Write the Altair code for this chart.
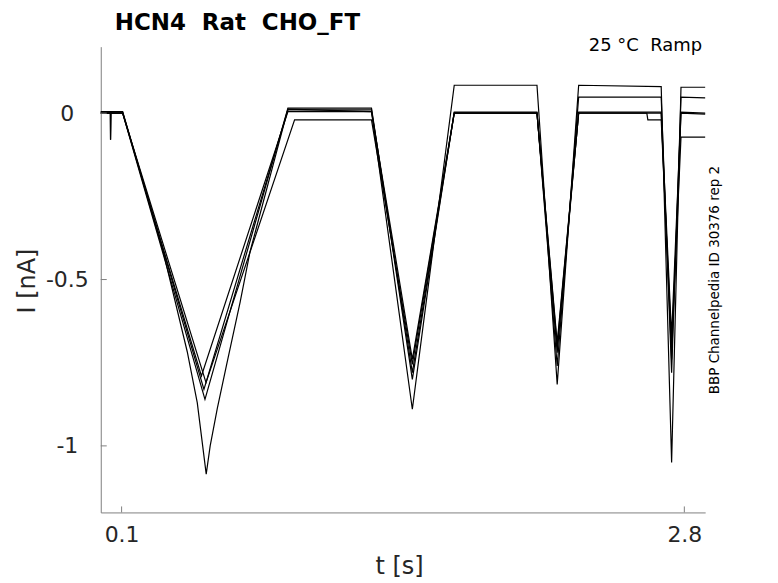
import altair as alt
import pandas as pd

# ---- data (time in s, current in nA) ----
t1 = [0.0, 0.046, 0.047, 0.049, 0.105, 0.301, 0.415, 0.463, 0.506, 0.525, 0.559, 0.607, 0.669, 0.716, 0.898,
      1.299, 1.495, 1.696, 2.093, 2.190, 2.293, 2.689, 2.739, 2.784, 2.900]
i1 = [0.003, 0.003, -0.08, 0.003, 0.003, -0.42, -0.717, -0.87, -1.085, -1.0, -0.888, -0.747, -0.567, -0.417, 0.012,
      0.005, -0.89, 0.084, 0.084, -0.815, 0.084, 0.080, -1.05, 0.078, 0.078]

t2 = [0.0, 0.105, 0.500, 0.898, 1.299, 1.495, 1.696, 2.093, 2.190, 2.293, 2.689, 2.739, 2.784, 2.900]
i2 = [0.0, 0.0, -0.86, 0.015, 0.015, -0.80, 0.003, 0.003, -0.76, 0.048, 0.048, -0.78, 0.048, 0.046]

t3 = [0.0, 0.046, 0.047, 0.049, 0.105, 0.495, 0.898, 1.299, 1.495, 1.696, 2.093, 2.190, 2.293, 2.689, 2.739, 2.784, 2.900]
i3 = [0.005, 0.005, -0.08, 0.005, 0.005, -0.83, 0.010, 0.010, -0.78, 0.0, 0.0, -0.72, 0.003, 0.003, -0.74, 0.0, -0.003]

t4 = [0.0, 0.105, 0.505, 0.930, 1.299, 1.495, 1.696, 2.093, 2.190, 2.293, 2.620, 2.625, 2.689, 2.739, 2.784, 2.900]
i4 = [0.0, 0.0, -0.81, -0.02, -0.02, -0.755, 0.0, 0.0, -0.69, 0.0, 0.0, -0.02, -0.02, -0.70, -0.072, -0.072]

t5 = [0.0, 0.105, 0.483, 0.898, 1.299, 1.495, 1.696, 2.093, 2.190, 2.293, 2.689, 2.739, 2.784, 2.900]
i5 = [0.0, 0.0, -0.79, 0.005, 0.005, -0.74, 0.0, 0.0, -0.70, 0.0, 0.0, -0.67, 0.003, 0.0]

x_ticks = [0.1, 2.8]
y_ticks = [0, -0.5, -1]

title_text = "HCN4\u00a0 Rat\u00a0 CHO_FT"
cond_text = "25 °C\u00a0 Ramp"
side_text = "BBP Channelpedia ID 30376 rep 2"

# ---- build table ----
rows = []
for name, ts, vs in [("1", t1, i1), ("2", t2, i2), ("3", t3, i3), ("4", t4, i4), ("5", t5, i5)]:
    for k, (t, v) in enumerate(zip(ts, vs)):
        rows.append({"trace": name, "t": t, "I": v, "k": k})
df = pd.DataFrame(rows)

W, H = 606, 467
FONT = "DejaVu Sans"
AX = "#808080"
TXT = "#262626"

xs = alt.Scale(domain=[0, 2.9], nice=False, zero=False)
ys = alt.Scale(domain=[-1.2, 0.2], nice=False, zero=False)

lines = alt.Chart(df).mark_line(color="black", strokeWidth=1.2).encode(
    x=alt.X("t:Q", scale=xs, axis=alt.Axis(
        values=x_ticks, title="t [s]", ticks=False, tickSize=0, grid=False,
        labelExpr="toString(datum.value)", labelPadding=12, labelFontSize=22,
        labelFont=FONT, labelColor=TXT, domainColor=AX, titleFont=FONT,
        titleFontSize=24, titleFontWeight="normal", titleColor=TXT,
        titleY=42, titleX=W / 2 - 4)),
    y=alt.Y("I:Q", scale=ys, axis=alt.Axis(
        values=y_ticks, title="I [nA]", ticks=False, tickSize=0, grid=False,
        labelExpr="toString(datum.value)", labelPadding=34, labelAlign="center",
        labelBaseline="middle", labelFontSize=22, labelFont=FONT, labelColor=TXT,
        domainColor=AX, titleFont=FONT, titleFontSize=24, titleFontWeight="normal",
        titleColor=TXT, titleX=-61, titleY=H / 2 + 1)),
    detail="trace:N",
    order="k:Q",
)

xt = alt.Chart(pd.DataFrame({"t": x_ticks})).mark_rule(color=AX, strokeWidth=1).encode(
    x=alt.X("t:Q", scale=xs), y=alt.value(H), y2=alt.value(H - 6))
yt = alt.Chart(pd.DataFrame({"I": y_ticks})).mark_rule(color=AX, strokeWidth=1).encode(
    y=alt.Y("I:Q", scale=ys), x=alt.value(0), x2=alt.value(6))

title = alt.Chart(pd.DataFrame({"s": [title_text]})).mark_text(
    font=FONT, fontSize=23, fontWeight="bold", color="black", align="left", baseline="alphabetic"
).encode(text="s:N", x=alt.value(14), y=alt.value(-17))

cond = alt.Chart(pd.DataFrame({"s": [cond_text]})).mark_text(
    font=FONT, fontSize=18, color="black", align="right", baseline="alphabetic"
).encode(text="s:N", x=alt.value(W - 3), y=alt.value(4))

side = alt.Chart(pd.DataFrame({"s": [side_text]})).mark_text(
    font=FONT, fontSize=13.5, color="black", align="center", baseline="middle", angle=270
).encode(text="s:N", x=alt.value(W + 10), y=alt.value(234))

chart = alt.layer(lines, xt, yt, title, cond, side).properties(
    width=W, height=H,
    autosize=alt.AutoSizeParams(type="none"),
    padding={"left": 93, "top": 38, "right": 65, "bottom": 69},
).configure_view(stroke=None)

chart.save("out.html", embed_options={"renderer": "svg", "actions": False})
